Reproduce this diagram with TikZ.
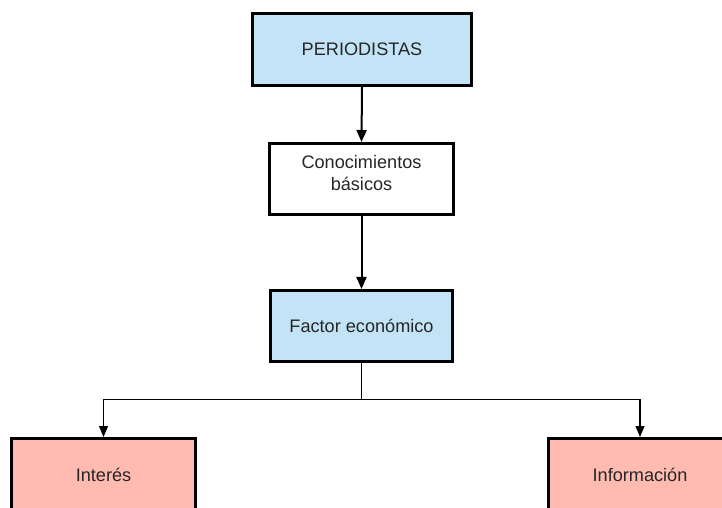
\documentclass[tikz,border=0pt]{standalone}
\usepackage{fontspec}
\setmainfont{Liberation Sans}
\usetikzlibrary{arrows.meta}
\definecolor{boxblue}{RGB}{194,228,246}
\definecolor{boxpink}{RGB}{255,187,177}
\begin{document}
\begin{tikzpicture}[x=1bp,y=-1bp,
  box/.style={draw=black,line width=3bp,rectangle,minimum height=72bp,
    inner sep=0pt,font=\fontsize{18.2}{21.5}\selectfont,align=center,text=black!85},
  thickarrow/.style={line width=2bp,-{Triangle[length=12bp,width=10bp]}},
  thinarrow/.style={line width=1.2bp,-{Triangle[length=11bp,width=9bp]}}]
\useasboundingbox (0,0) rectangle (722,508);
\node[box,fill=boxblue,minimum width=219bp] (P) at (362,49.5) {PERIODISTAS};
\node[box,fill=white,minimum width=184bp,minimum height=71bp] (C) at (361.5,179)
  {\raisebox{6bp}[\height][\depth]{\shortstack{Conocimientos\\[5bp]básicos}}};
\node[box,fill=boxblue,minimum width=182bp,minimum height=71bp] (F) at (361.5,326) {Factor económico};
\node[box,fill=boxpink,minimum width=184bp] (I) at (103.5,474.5) {Interés};
\node[box,fill=boxpink,minimum width=184bp] (N) at (640,474.5) {Información};
\coordinate (j) at (361.5,399.5);
\draw[thickarrow] (P.south) -- (C.north);
\draw[thickarrow] (C.south) -- (F.north);
\draw[line width=1.2bp] (F.south) -- (j);
\draw[thinarrow] (j) -| (I.north);
\draw[thinarrow] (j) -| (N.north);
\end{tikzpicture}
\end{document}
